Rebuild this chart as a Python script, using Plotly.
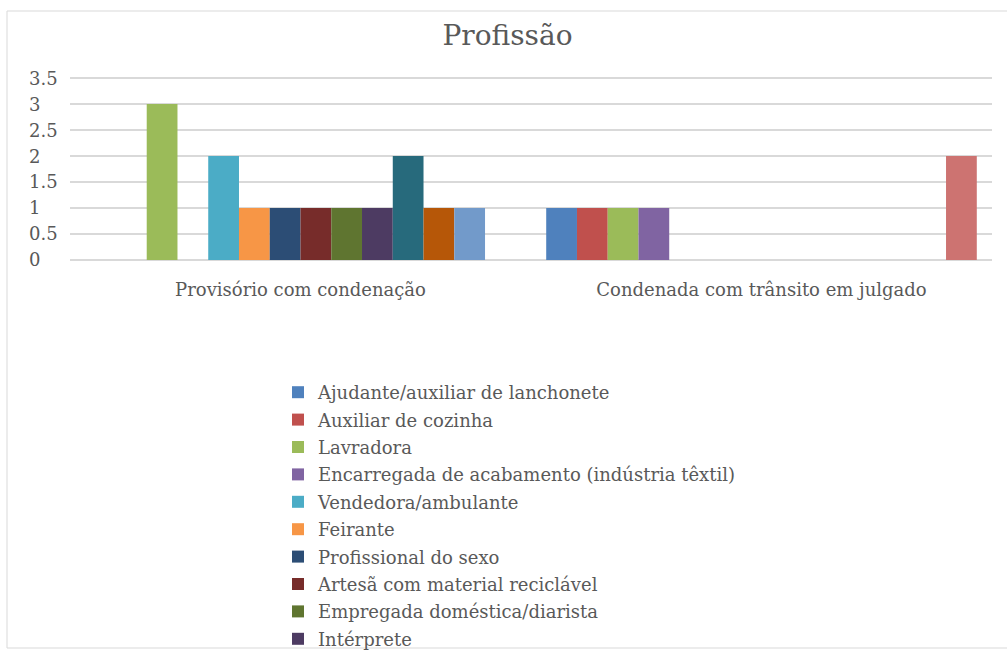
import plotly.graph_objects as go

categories = ["Provisório com condenação", "Condenada com trânsito em julgado"]

series_names = [
    "Ajudante/auxiliar de lanchonete",
    "Auxiliar de cozinha",
    "Lavradora",
    "Encarregada de acabamento (indústria têxtil)",
    "Vendedora/ambulante",
    "Feirante",
    "Profissional do sexo",
    "Artesã com material reciclável",
    "Empregada doméstica/diarista",
    "Intérprete",
    "Série 11",
    "Série 12",
    "Série 13",
    "Série 14",
]

provisorio = [0, 0, 3, 0, 2, 1, 1, 1, 1, 1, 2, 1, 1, 0]
condenada = [1, 1, 1, 1, 0, 0, 0, 0, 0, 0, 0, 0, 0, 2]

colors = [
    "#4F81BD", "#C0504D", "#9BBB59", "#8064A2", "#4BACC6", "#F79646",
    "#2C4D75", "#772C2A", "#5F7530", "#4D3B62", "#276A7C", "#B65708",
    "#729ACA", "#CD7371",
]

legend_visible = [True] * 10 + [False] * 4

y_ticks = [0, 0.5, 1, 1.5, 2, 2.5, 3, 3.5]
y_tick_labels = ["0", "0.5", "1", "1.5", "2", "2.5", "3", "3.5"]

FONT = "DejaVu Serif"
GRAY = "#595959"

fig = go.Figure()
for i, name in enumerate(series_names):
    fig.add_trace(go.Bar(
        x=categories,
        y=[provisorio[i], condenada[i]],
        name=name,
        marker=dict(color=colors[i], line=dict(width=0)),
        showlegend=legend_visible[i],
        legendgroup=f"g{i}",
    ))

W, H = 1007, 650
L, R, T, B = 70, 15, 77, 389
pw = W - L - R
ph = H - T - B

def px_x(x):
    return (x - L) / pw

def px_y(y):
    return (H - B - y) / ph

annotations = []
for v, lab in zip(y_ticks, y_tick_labels):
    annotations.append(dict(
        x=px_x(27), xref="paper", y=v, yref="y",
        text=lab, showarrow=False, xanchor="left", yanchor="middle",
        font=dict(family=FONT, size=18, color=GRAY),
    ))

fig.update_layout(
    width=W, height=H,
    margin=dict(l=L, r=R, t=T, b=B, autoexpand=False),
    paper_bgcolor="white",
    plot_bgcolor="white",
    barmode="group",
    bargap=0.066,
    bargroupgap=0,
    title=dict(
        text="Profissão", x=507.5 / W, xanchor="center", xref="container",
        y=1 - 35 / H, yanchor="middle", yref="container",
        font=dict(family=FONT, size=28, color=GRAY),
    ),
    xaxis=dict(
        showgrid=False, zeroline=False, showline=False,
        tickfont=dict(family=FONT, size=18, color=GRAY),
        ticklabelstandoff=16,
        fixedrange=True,
    ),
    yaxis=dict(
        range=[-0.02, 3.52], tickvals=y_ticks, showticklabels=False,
        showgrid=True, gridcolor="#D9D9D9", gridwidth=1.5,
        zeroline=False, showline=False,
    ),
    legend=dict(
        x=px_x(278), xanchor="left",
        y=px_y(374), yanchor="top",
        font=dict(family=FONT, size=18, color=GRAY),
        tracegroupgap=1,
        bgcolor="rgba(0,0,0,0)",
    ),
    annotations=annotations,
    shapes=[dict(
        type="rect", xref="paper", yref="paper",
        x0=px_x(7), x1=px_x(1012), y0=px_y(648), y1=px_y(11),
        line=dict(color="#D9D9D9", width=1), layer="below",
    )],
)

fig.write_html("out.html")
